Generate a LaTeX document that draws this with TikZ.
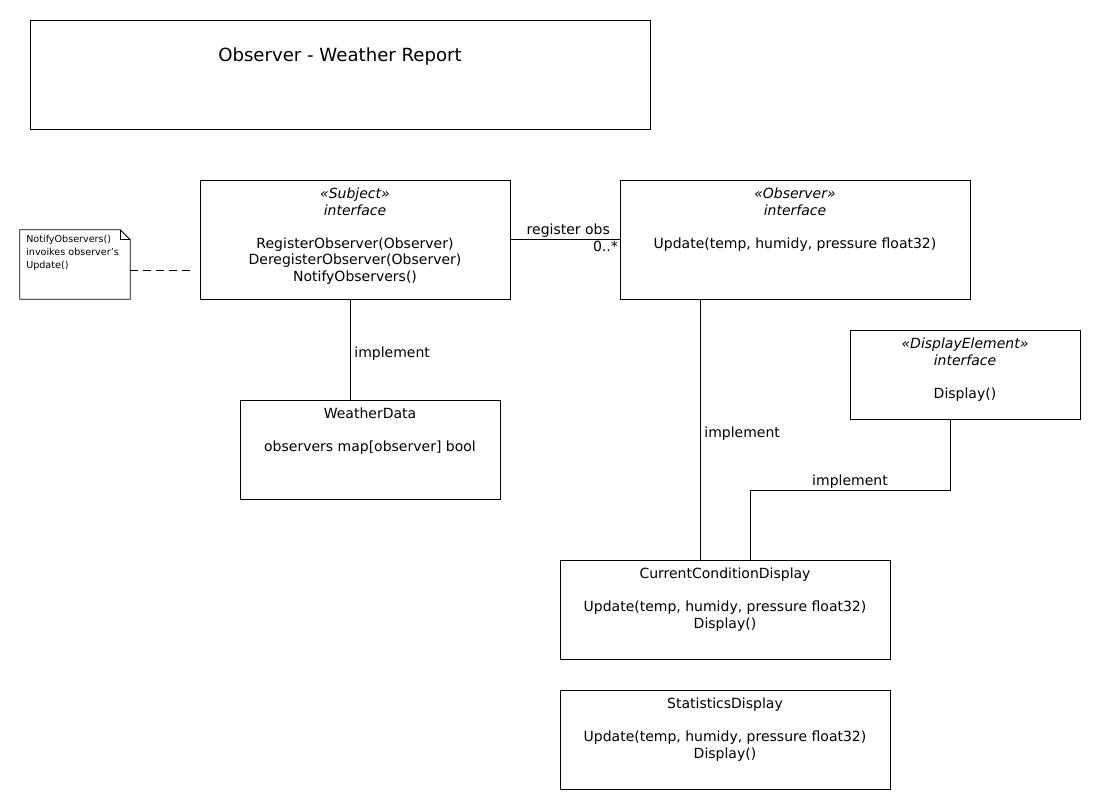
\documentclass[tikz,border=0pt]{standalone}
\usepackage{fontspec}
\setmainfont{DejaVu Sans}
\usetikzlibrary{positioning, fit, calc}

\begin{document}
\begin{tikzpicture}[
        x=0.75pt, y=-0.75pt,
        box/.style={draw, line width=0.6pt, inner sep=0pt},
        txt/.style={align=center, anchor=north, inner sep=0pt, font=\fontsize{10.5}{12.4}\selectfont},
        link/.style={line width=0.6pt, font=\fontsize{10.5}{12}\selectfont},
        dep/.style={line width=0.6pt, dash pattern=on 6pt off 3.75pt},
    ]
        \useasboundingbox (0,0) rectangle (1100,810);
        % frame
        \node[box, fit={(30,20) (650,129)}] (frame) {};
        \node[txt, anchor=center, font=\fontsize{13.6}{16}\selectfont] (title) at (340,56) {Observer - Weather Report};
        % classes
        \node[box, fit={(200,180) (510,299)}] (subj) {};
        \node[txt] (subjtxt) at ([yshift=-6pt]subj.north) {\textit{«Subject»}\\\textit{interface}\\[12.4pt]RegisterObserver(Observer)\\DeregisterObserver(Observer)\\NotifyObservers()};
        \node[box, fit={(620,180) (970,299)}] (obs) {};
        \node[txt] (obstxt) at ([yshift=-6pt]obs.north) {\textit{«Observer»}\\\textit{interface}\\[12.4pt]Update(temp, humidy, pressure float32)};
        \node[box, fit={(850,330) (1080,419)}] (disp) {};
        \node[txt] (disptxt) at ([yshift=-6pt]disp.north) {\textit{«DisplayElement»}\\\textit{interface}\\[12.4pt]Display()};
        \node[box, fit={(240,400) (500,499)}] (wd) {};
        \node[txt] (wdtxt) at ([yshift=-6pt]wd.north) {WeatherData\\[12.4pt]observers map[observer] bool};
        \node[box, fit={(560,560) (890,659)}] (ccd) {};
        \node[txt] (ccdtxt) at ([yshift=-6pt]ccd.north) {CurrentConditionDisplay\\[12.4pt]Update(temp, humidy, pressure float32)\\Display()};
        \node[box, fit={(560,690) (890,789)}] (stat) {};
        \node[txt] (stattxt) at ([yshift=-6pt]stat.north) {StatisticsDisplay\\[12.4pt]Update(temp, humidy, pressure float32)\\Display()};
        % note
        \node[fit={(20,230) (130,299)}, inner sep=0pt] (note) {};
        \draw[line width=0.6pt] (note.north west) -- ($(note.north east)+(-10,0)$) -- ($(note.north east)+(0,10)$) -- (note.south east) -- (note.south west) -- cycle;
        \draw[line width=0.6pt] ($(note.north east)+(-10,0)$) -- ($(note.north east)+(-10,10)$) -- ($(note.north east)+(0,10)$);
        \node[align=left, anchor=north west, inner sep=0pt, font=\fontsize{7.2}{9.75}\selectfont] (notetxt) at (26,235) {NotifyObservers()\\invoikes observer's\\Update()};
        % connectors
        \draw[dep] (note.east |- 0,270) -- ($(subj.west |- 0,270)+(-10,0)$);
        \draw[link] (subj.east) -- (obs.west)
            node[pos=1, above left, inner sep=1pt, xshift=-6pt] {register obs}
            node[pos=1, below left, inner sep=1pt] {0..*};
        \draw[link] (subj.south -| 350,0) -- node[right, inner sep=3pt, yshift=-3pt] {implement} (wd.north -| 350,0);
        \draw[link] (obs.south -| 700,0) -- node[right, inner sep=3pt, yshift=-3pt] {implement} (ccd.north -| 700,0);
        \draw[link] (disp.south -| 950,0) -- ++(0,71) -| node[pos=0.25, above, inner sep=1pt] {implement} (ccd.north -| 750,0);
    \end{tikzpicture}
\end{document}
